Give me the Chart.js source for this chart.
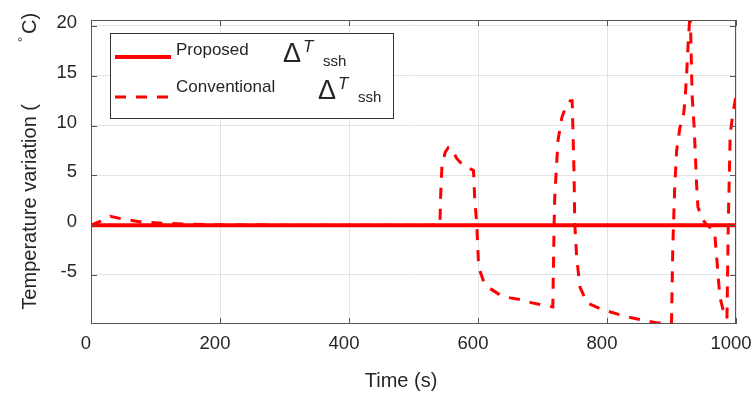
<!DOCTYPE html>
<html>
<head>
<meta charset="utf-8">
<script src="https://cdn.jsdelivr.net/npm/chart.js@4.4.0/dist/chart.umd.min.js"></script>
<style>
  html, body { margin: 0; padding: 0; background: #fff; }
</style>
</head>
<body>
<canvas id="tempChart" width="752" height="394"></canvas>
<script>
// values
const xTicks = [0, 200, 400, 600, 800, 1000];
const yTicks = [-5, 0, 5, 10, 15, 20];

const propTime = [0, 1000];
const propTemp = [0, 0];

const convTime = [0, 15, 30, 50, 75, 110, 150, 200, 300,
  541, 542, 544, 549, 554, 559, 567, 577, 593, 595,
  598, 601, 608, 615, 634, 650, 668, 684, 700, 716,
  718, 719, 724, 730, 735, 743, 746, 749, 750, 753,
  758, 769, 794, 831, 877, 899, 900, 902, 905, 908,
  913, 918, 921, 924, 926, 929, 932, 935, 939, 941,
  948, 955, 962, 967, 970, 975, 980, 984, 986, 988,
  991, 996, 1000];
const convTemp = [0, 0.4, 0.9, 0.6, 0.35, 0.2, 0.1, 0.03, 0,
  0, 2.8, 5.8, 7.3, 7.8, 7.7, 6.7, 6.0, 5.5, 2.5,
  0.2, -4.2, -5.5, -6.2, -7.0, -7.3, -7.5, -7.8, -8.0, -8.2,
  0, 2.8, 8.5, 10.8, 11.7, 12.5, 12.5, 5, 0.2, -3.2,
  -6.2, -7.8, -8.5, -9.2, -9.8, -9.9, -9.8, -2.2, 3.8, 7.5,
  9.8, 10.7, 12.5, 15.8, 18.5, 21.5, 13, 10, 4, 1.8,
  0.6, 0, -0.3, -0.8, -3.2, -7.2, -8.5, -9.3, -9.4, 0,
  9.2, 11.5, 13];

const FONT = "'Liberation Sans', Arial, sans-serif";
const TXT = '#262626';
const RED = '#ff0000';
const DASH = [11, 10];

const toPoints = (xs, ys) => xs.map((x, i) => ({ x: x, y: ys[i] }));

// axis titles, legend, box and inward ticks (MATLAB look)
const decor = {
  id: 'decor',
  afterDatasetsDraw(chart) {
    const c = chart.ctx;
    const a = chart.chartArea;
    const xs = chart.scales.x, ys = chart.scales.y;

    // box
    c.save();
    c.strokeStyle = '#555';
    c.lineWidth = 1;
    c.strokeRect(a.left + 0.5, a.top + 0.5, a.right - a.left - 1, a.bottom - a.top - 1);
    c.beginPath();
    xTicks.forEach(v => {
      const px = Math.round(xs.getPixelForValue(v)) + 0.5;
      c.moveTo(px, a.bottom); c.lineTo(px, a.bottom - 6);
      c.moveTo(px, a.top); c.lineTo(px, a.top + 6);
    });
    yTicks.forEach(v => {
      const py = Math.round(ys.getPixelForValue(v)) + 0.5;
      c.moveTo(a.left, py); c.lineTo(a.left + 6, py);
      c.moveTo(a.right, py); c.lineTo(a.right - 6, py);
    });
    c.stroke();
    c.restore();

    // legend
    c.save();
    c.fillStyle = '#fff';
    c.fillRect(110, 33, 283, 85);
    c.strokeStyle = '#333';
    c.lineWidth = 1;
    c.strokeRect(110.5, 33.5, 283, 85);
    c.strokeStyle = RED;
    c.lineWidth = 4;
    c.beginPath(); c.moveTo(115, 57); c.lineTo(171, 57); c.stroke();
    c.lineWidth = 3;
    c.setLineDash(DASH);
    c.beginPath(); c.moveTo(115, 97); c.lineTo(171, 97); c.stroke();
    c.setLineDash([]);
    c.fillStyle = TXT;
    c.textBaseline = 'alphabetic';
    c.textAlign = 'left';
    c.font = '17px ' + FONT;
    c.fillText('Proposed', 176, 55);
    c.fillText('Conventional', 176, 92);
    const sym = (x, base, tBase, sBase) => {
      c.font = '27px ' + FONT;
      c.fillText('\u0394', x, base);
      c.font = 'italic 17px ' + FONT;
      c.fillText('T', x + 20, tBase);
      c.font = '15px ' + FONT;
      c.fillText('ssh', x + 40, sBase);
    };
    sym(283, 62, 52, 66);
    sym(318, 99, 89, 102);
    c.restore();

    // axis titles
    c.save();
    c.fillStyle = TXT;
    c.font = '20px ' + FONT;
    c.textAlign = 'center';
    c.textBaseline = 'middle';
    c.fillText('Time (s)', 401, 381);
    c.translate(36, 0);
    c.rotate(-Math.PI / 2);
    c.textBaseline = 'alphabetic';
    c.textAlign = 'right';
    c.fillText('Temperature variation (', -104, 0);
    c.textAlign = 'left';
    c.font = '13px ' + FONT;
    c.fillText('\u00b0', -42, -9);
    c.font = '20px ' + FONT;
    c.fillText('C)', -34, 0);
    c.restore();
  }
};

new Chart(document.getElementById('tempChart'), {
  type: 'line',
  data: {
    datasets: [
      {
        label: 'Proposed',
        data: toPoints(propTime, propTemp),
        borderColor: RED,
        borderWidth: 4,
        pointRadius: 0,
        tension: 0
      },
      {
        label: 'Conventional',
        data: toPoints(convTime, convTemp),
        borderColor: RED,
        borderWidth: 3,
        borderDash: DASH,
        borderCapStyle: 'butt',
        pointRadius: 0,
        tension: 0
      }
    ]
  },
  options: {
    responsive: false,
    animation: false,
    events: [],
    layout: { padding: { top: 20, right: 16, left: 0, bottom: 0 } },
    plugins: { legend: { display: false }, title: { display: false }, tooltip: { enabled: false } },
    scales: {
      x: {
        type: 'linear',
        min: 0,
        max: 1000,
        afterBuildTicks: s => { s.ticks = xTicks.map(v => ({ value: v })); },
        afterFit: s => { s.height = 70; s.paddingLeft = 0; s.paddingRight = 0; },
        grid: { color: '#e2e2e2', drawTicks: false },
        border: { display: false },
        ticks: {
          color: TXT,
          font: { family: FONT, size: 18.5 },
          padding: 9,
          labelOffset: -5,
          maxRotation: 0,
          callback: v => String(v)
        }
      },
      y: {
        min: -9.92,
        max: 20.6,
        afterBuildTicks: s => { s.ticks = yTicks.map(v => ({ value: v })); },
        afterFit: s => { s.width = 91; s.paddingTop = 0; s.paddingBottom = 0; },
        grid: { color: '#e2e2e2', drawTicks: false },
        border: { display: false },
        ticks: {
          color: TXT,
          font: { family: FONT, size: 18.5 },
          padding: 14,
          labelOffset: -3,
          callback: v => String(v)
        }
      }
    }
  },
  plugins: [decor]
});
</script>
</body>
</html>
